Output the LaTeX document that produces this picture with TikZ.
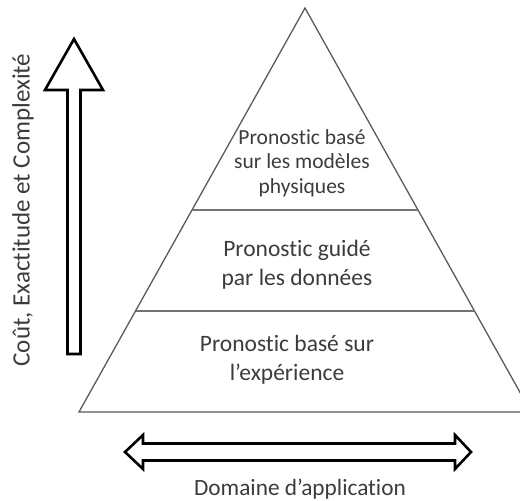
\documentclass[tikz,border=0pt]{standalone}
\usepackage{fontspec}
\setmainfont{Carlito}[Ligatures=CommonOff]
\usetikzlibrary{calc}
\definecolor{edgegray}{HTML}{5A5A5A}
\definecolor{textgray}{HTML}{3C3C3C}
\begin{document}
\begin{tikzpicture}[x=1pt,y=-1pt,
  pyredge/.style={draw=edgegray,line width=1.3pt},
  tier/.style={draw=edgegray!85,line width=2pt},
  bigarrow/.style={draw=black,line width=2.6pt,fill=white,line join=miter},
  lbl/.style={text=textgray,align=center,inner sep=0pt},
]
\useasboundingbox (0,0) rectangle (520,501);
\begin{scope}
\clip (0,0) rectangle (520,501);
% pyramid outline
\coordinate (apex) at (305,8);
\coordinate (bl) at (79,412);
\coordinate (br) at (531,412);
\draw[pyredge] (bl) -- (apex) -- (br) -- cycle;
% tier separators
\draw[tier] ($(apex)!0.5!(bl)$) -- ($(apex)!0.5!(br)$);
\draw[tier] ($(apex)!0.75!(bl)$) -- ($(apex)!0.75!(br)$);
\end{scope}
% tier labels
\node[lbl,font=\fontsize{21.5}{24.5}\selectfont] (top) at (302,163)
  {Pronostic basé\\sur les modèles\\physiques};
\node[lbl,font=\fontsize{23.5}{29}\selectfont] (mid) at (297,265)
  {Pronostic guidé\\par les données};
\node[lbl,font=\fontsize{23.5}{29}\selectfont] (bot) at (287,360)
  {Pronostic basé sur\\l’expérience};
% vertical arrow and its label
\draw[bigarrow] (74,39) -- (103,90) -- (80.5,90) -- (80.5,354) -- (67.5,354)
  -- (67.5,90) -- (45,90) -- cycle;
\node[lbl,rotate=90,font=\fontsize{25}{30}\selectfont] (yaxis) at (23,210)
  {Coût, Exactitude et Complexité};
% horizontal double arrow and its label
\draw[bigarrow] (125,452) -- (143,435) -- (143,443.5) -- (455,443.5) -- (455,435)
  -- (471,452) -- (455,469) -- (455,460.5) -- (143,460.5) -- (143,469) -- cycle;
\node[lbl,anchor=base,font=\fontsize{23.3}{28}\selectfont] (xaxis) at (300,495)
  {Domaine d’application};
\end{tikzpicture}
\end{document}
